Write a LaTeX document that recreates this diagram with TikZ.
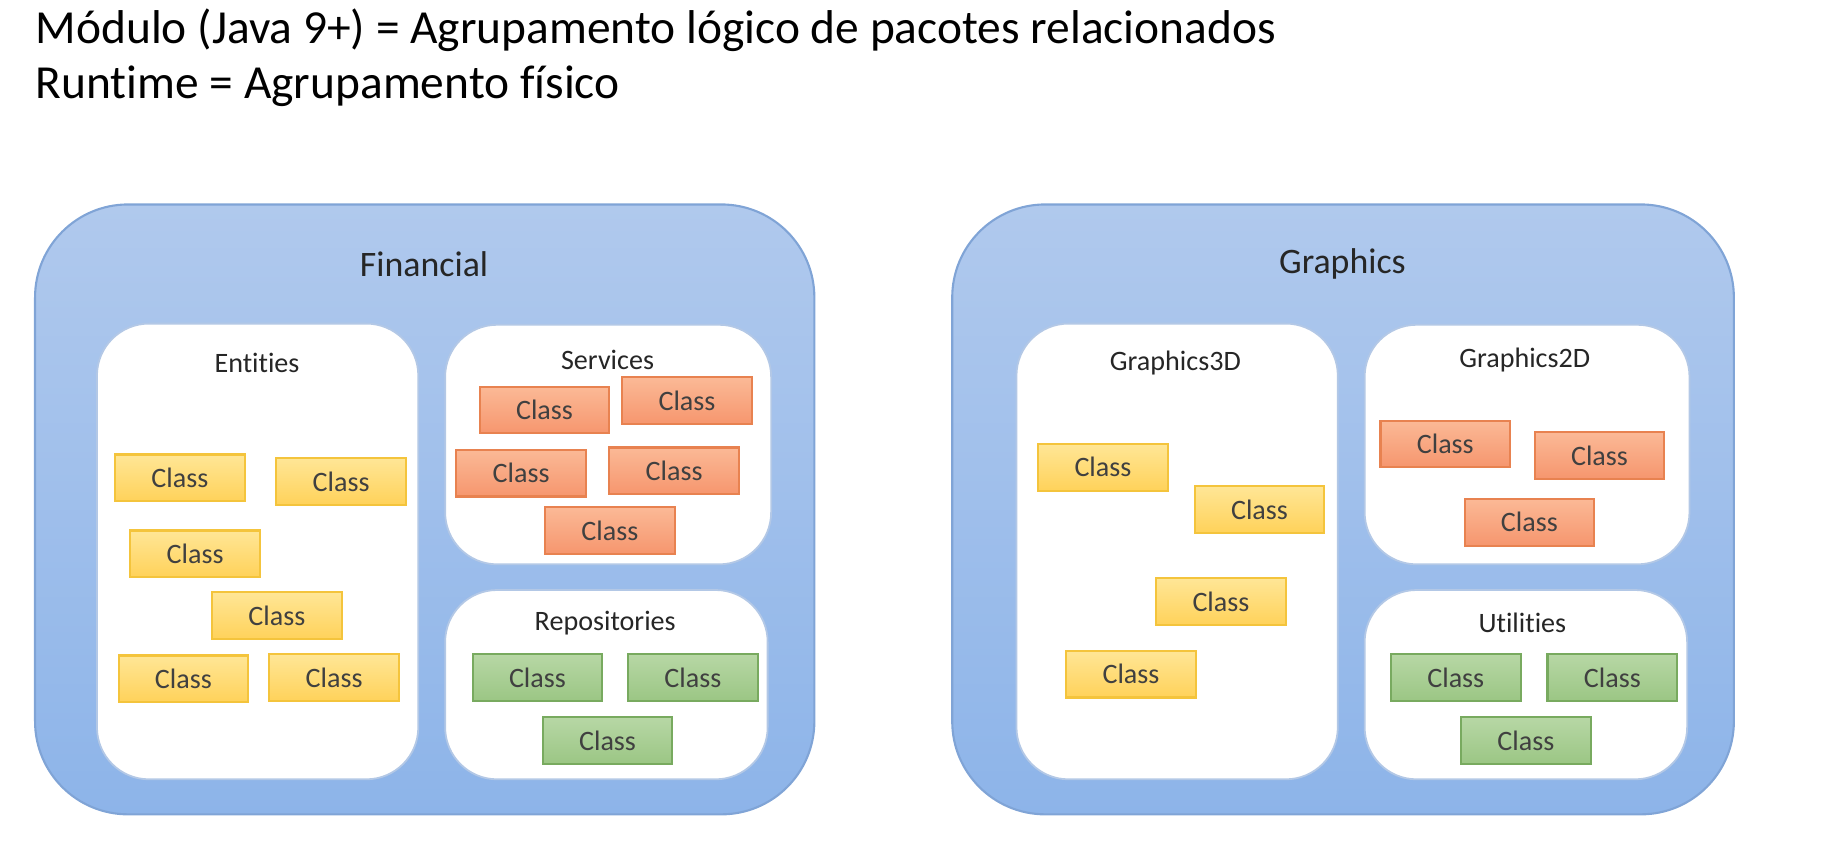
\documentclass[tikz,border=0pt]{standalone}
\usepackage{fontspec}
\setmainfont{Carlito}[Ligatures=NoCommon]
\usetikzlibrary{fit}
\definecolor{modtop}{RGB}{176,201,237}
\definecolor{modbot}{RGB}{141,180,233}
\definecolor{modline}{RGB}{128,164,214}
\definecolor{ylwtop}{RGB}{255,230,150}
\definecolor{ylwbot}{RGB}{255,210,90}
\definecolor{ylwline}{RGB}{244,196,60}
\definecolor{orgtop}{RGB}{251,185,150}
\definecolor{orgbot}{RGB}{246,150,110}
\definecolor{orgline}{RGB}{232,130,80}
\definecolor{grntop}{RGB}{183,215,165}
\definecolor{grnbot}{RGB}{155,198,132}
\definecolor{grnline}{RGB}{120,170,95}
\definecolor{txt}{RGB}{38,38,38}
\tikzset{
  module/.style={draw=modline,line width=.6pt,rounded corners=9.3mm,
    top color=modtop,bottom color=modbot,inner sep=0pt},
  pkg/.style={draw=modline!60,line width=.5pt,fill=white,rounded corners=5.2mm,inner sep=0pt},
  pkglabel/.style={font=\fontsize{8}{9}\selectfont,text=txt},
  modlabel/.style={font=\fontsize{10.2}{12}\selectfont,text=txt},
  classbox/.style={minimum width=1.297cm,minimum height=.467cm,inner sep=0pt,
    line width=.6pt,font=\fontsize{8}{9}\selectfont,text=black!75},
  ylw/.style={classbox,draw=ylwline,top color=ylwtop,bottom color=ylwbot},
  org/.style={classbox,draw=orgline,top color=orgtop,bottom color=orgbot},
  grn/.style={classbox,draw=grnline,top color=grntop,bottom color=grnbot}
}
\begin{document}
\begin{tikzpicture}[x=0.011684cm,y=-0.011684cm]
  \useasboundingbox (0,0) rectangle (1568,722);
  % title lines
  \node[anchor=base west,inner sep=0,font=\fontsize{13.5}{16}\selectfont] (line1) at (30,37)
    {Módulo (Java 9+) = Agrupamento lógico de pacotes relacionados};
  \node[anchor=base west,inner sep=0,font=\fontsize{13.5}{16}\selectfont] (line2) at (30,84)
    {Runtime = Agrupamento físico};

  % Financial module
  \node[module,fit={(30,175) (697,697)}] (fin) {};
  \node[modlabel] (finlbl) at (363,226) {Financial};
  \node[pkg,fit={(83,277) (358,667)}] (ent) {};
  \node[pkglabel] (entlbl) at (220,311) {Entities};
  \node[pkg,fit={(381,278) (660,483)}] (srv) {};
  \node[pkglabel] (srvlbl) at (520,308) {Services};
  \node[pkg,fit={(381,505) (657,667)}] (rep) {};
  \node[pkglabel] (replbl) at (518,533) {Repositories};
  \foreach \x/\y [count=\i] in {154/409,292/412,167/474,237/527,157/581,286/580}
    \node[ylw] (ent\i) at (\x,\y) {Class};
  \foreach \x/\y [count=\i] in {466/351,588/343,446/405,577/403,522/454}
    \node[org] (srv\i) at (\x,\y) {Class};
  \foreach \x/\y [count=\i] in {460/580,593/580,520/634}
    \node[grn] (rep\i) at (\x,\y) {Class};

  % Graphics module
  \node[module,fit={(815,175) (1484,697)}] (gfx) {};
  \node[modlabel] (gfxlbl) at (1149,226) {Graphics};
  \node[pkg,fit={(870,277) (1145,667)}] (g3d) {};
  \node[pkglabel] (g3dlbl) at (1006,311) {Graphics3D};
  \node[pkg,fit={(1168,278) (1446,483)}] (g2d) {};
  \node[pkglabel] (g2dlbl) at (1305,308) {Graphics2D};
  \node[pkg,fit={(1168,505) (1444,667)}] (utl) {};
  \node[pkglabel] (utllbl) at (1303,533) {Utilities};
  \foreach \x/\y [count=\i] in {944/400,1078/436,1045/515,968/577}
    \node[ylw] (g3d\i) at (\x,\y) {Class};
  \foreach \x/\y [count=\i] in {1237/380,1369/390,1309/447}
    \node[org] (g2d\i) at (\x,\y) {Class};
  \foreach \x/\y [count=\i] in {1246/580,1380/580,1306/634}
    \node[grn] (utl\i) at (\x,\y) {Class};
\end{tikzpicture}
\end{document}
